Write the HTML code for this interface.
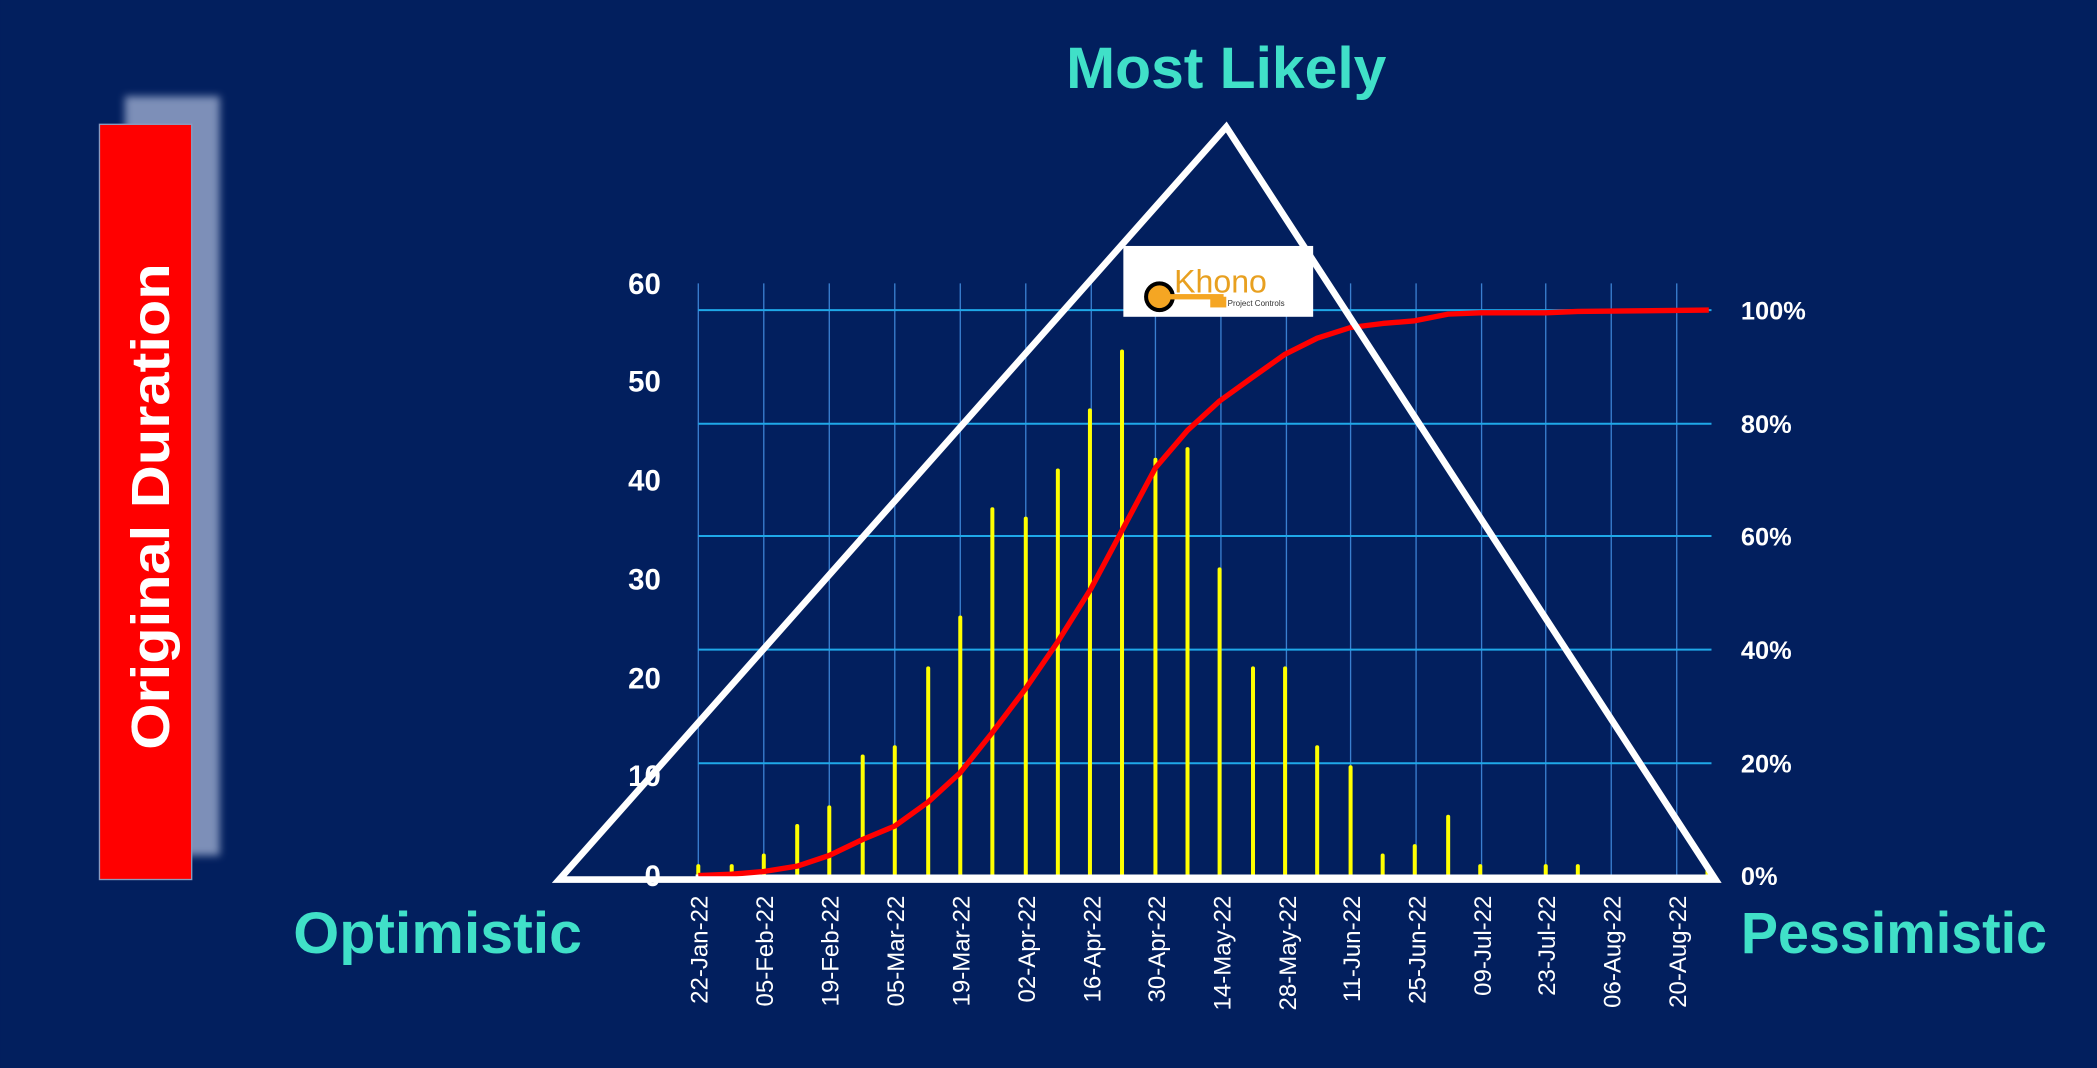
<!DOCTYPE html>
<html><head><meta charset="utf-8"><style>
html,body{margin:0;padding:0;background:#021f5e;width:2097px;height:1068px;overflow:hidden}
svg{display:block}
text{font-family:"Liberation Sans",sans-serif}
</style></head><body>
<svg width="2097" height="1068" viewBox="0 0 1568 799" xmlns="http://www.w3.org/2000/svg">
<defs><filter id="b" x="-30%" y="-10%" width="160%" height="120%"><feGaussianBlur stdDeviation="3"/></filter></defs>
<rect width="1568" height="799" fill="#021f5e"/>
<rect x="93" y="72" width="71" height="568" fill="#7d8fb8" filter="url(#b)"/>
<rect x="74" y="93" width="69" height="565" fill="#ff0000" stroke="#8a9bbf" stroke-width="1"/>
<text transform="translate(126,379) rotate(-90)" text-anchor="middle" fill="#fff" font-size="40" font-weight="bold" textLength="364" lengthAdjust="spacingAndGlyphs">Original Duration</text>
<g stroke="#3a7fd0" stroke-width="1">
<line x1="522" y1="212" x2="522" y2="655"/><line x1="571" y1="212" x2="571" y2="655"/><line x1="620" y1="212" x2="620" y2="655"/><line x1="669" y1="212" x2="669" y2="655"/><line x1="718" y1="212" x2="718" y2="655"/><line x1="767" y1="212" x2="767" y2="655"/><line x1="816" y1="212" x2="816" y2="655"/><line x1="864" y1="212" x2="864" y2="655"/><line x1="913" y1="212" x2="913" y2="655"/><line x1="962" y1="212" x2="962" y2="655"/><line x1="1010" y1="212" x2="1010" y2="655"/><line x1="1059" y1="212" x2="1059" y2="655"/><line x1="1108" y1="212" x2="1108" y2="655"/><line x1="1156" y1="212" x2="1156" y2="655"/><line x1="1205" y1="212" x2="1205" y2="655"/><line x1="1254" y1="212" x2="1254" y2="655"/>
</g>
<g stroke="#1fa8e8" stroke-width="1.5">
<line x1="522" y1="232" x2="1280" y2="232"/><line x1="522" y1="317" x2="1280" y2="317"/><line x1="522" y1="401" x2="1280" y2="401"/><line x1="522" y1="486" x2="1280" y2="486"/><line x1="522" y1="571" x2="1280" y2="571"/>
</g>
<g stroke="#ffff00" stroke-width="3" stroke-linecap="round">
<line x1="522" y1="655" x2="522" y2="648"/><line x1="547" y1="655" x2="547" y2="648"/><line x1="571" y1="655" x2="571" y2="640"/><line x1="596" y1="655" x2="596" y2="618"/><line x1="620" y1="655" x2="620" y2="604"/><line x1="645" y1="655" x2="645" y2="566"/><line x1="669" y1="655" x2="669" y2="559"/><line x1="694" y1="655" x2="694" y2="500"/><line x1="718" y1="655" x2="718" y2="462"/><line x1="742" y1="655" x2="742" y2="381"/><line x1="767" y1="655" x2="767" y2="388"/><line x1="791" y1="655" x2="791" y2="352"/><line x1="815" y1="655" x2="815" y2="307"/><line x1="839" y1="655" x2="839" y2="263"/><line x1="864" y1="655" x2="864" y2="344"/><line x1="888" y1="655" x2="888" y2="336"/><line x1="912" y1="655" x2="912" y2="426"/><line x1="937" y1="655" x2="937" y2="500"/><line x1="961" y1="655" x2="961" y2="500"/><line x1="985" y1="655" x2="985" y2="559"/><line x1="1010" y1="655" x2="1010" y2="574"/><line x1="1034" y1="655" x2="1034" y2="640"/><line x1="1058" y1="655" x2="1058" y2="633"/><line x1="1083" y1="655" x2="1083" y2="611"/><line x1="1107" y1="655" x2="1107" y2="648"/><line x1="1156" y1="655" x2="1156" y2="648"/><line x1="1180" y1="655" x2="1180" y2="648"/><line x1="1277" y1="655" x2="1277" y2="648"/>
</g>
<line x1="520" y1="655" x2="1280" y2="655" stroke="#fff" stroke-width="1.5"/>
<polyline fill="none" stroke="#ff0000" stroke-width="4" stroke-linejoin="round" points="522,655 547,654 571,652 596,648 620,640 645,628 669,618 694,600 718,578 742,548 767,515 791,480 816,440 840,395 864,350 888,322 912,300 937,282 961,265 985,253 1010,245 1034,242 1058,240 1083,235 1107,234 1156,234 1180,233 1278,232"/>
<polygon points="917,95 418,658 1283,658" fill="none" stroke="#fff" stroke-width="5" stroke-linejoin="miter"/>
<rect x="840" y="184" width="142" height="53" fill="#fff"/>
<circle cx="867" cy="222" r="10" fill="#f5a623" stroke="#000" stroke-width="3"/>
<rect x="875" y="220" width="40" height="4" fill="#f5a623"/>
<rect x="905" y="222" width="12" height="8" fill="#f5a623"/>
<text x="878" y="219" fill="#e8a020" font-size="24" font-family="Liberation Serif,serif">Khono</text>
<text x="918" y="229" fill="#333" font-size="6">Project Controls</text>
<g fill="#fff" font-size="22" font-weight="bold" text-anchor="end">
<text x="494" y="220">60</text><text x="494" y="293">50</text><text x="494" y="367">40</text><text x="494" y="441">30</text><text x="494" y="515">20</text><text x="494" y="588">10</text><text x="494" y="663">0</text>
</g>
<g fill="#fff" font-size="19" font-weight="bold">
<text x="1302" y="239">100%</text><text x="1302" y="324">80%</text><text x="1302" y="408">60%</text><text x="1302" y="493">40%</text><text x="1302" y="578">20%</text><text x="1302" y="662">0%</text>
</g>
<g fill="#fff" font-size="18" text-anchor="end" font-family="DejaVu Sans,sans-serif">
<text transform="translate(529,670) rotate(-90)">22-Jan-22</text>
<text transform="translate(578,670) rotate(-90)">05-Feb-22</text>
<text transform="translate(627,670) rotate(-90)">19-Feb-22</text>
<text transform="translate(676,670) rotate(-90)">05-Mar-22</text>
<text transform="translate(725,670) rotate(-90)">19-Mar-22</text>
<text transform="translate(774,670) rotate(-90)">02-Apr-22</text>
<text transform="translate(823,670) rotate(-90)">16-Apr-22</text>
<text transform="translate(871,670) rotate(-90)">30-Apr-22</text>
<text transform="translate(920,670) rotate(-90)">14-May-22</text>
<text transform="translate(969,670) rotate(-90)">28-May-22</text>
<text transform="translate(1017,670) rotate(-90)">11-Jun-22</text>
<text transform="translate(1066,670) rotate(-90)">25-Jun-22</text>
<text transform="translate(1115,670) rotate(-90)">09-Jul-22</text>
<text transform="translate(1163,670) rotate(-90)">23-Jul-22</text>
<text transform="translate(1212,670) rotate(-90)">06-Aug-22</text>
<text transform="translate(1261,670) rotate(-90)">20-Aug-22</text>
</g>
<g fill="#40e0c8" font-size="44" font-weight="bold">
<text x="917" y="66" text-anchor="middle">Most Likely</text>
<text x="219" y="713" textLength="216" lengthAdjust="spacingAndGlyphs">Optimistic</text>
<text x="1302" y="713" textLength="229" lengthAdjust="spacingAndGlyphs">Pessimistic</text>
</g>
</svg>
</body></html>
